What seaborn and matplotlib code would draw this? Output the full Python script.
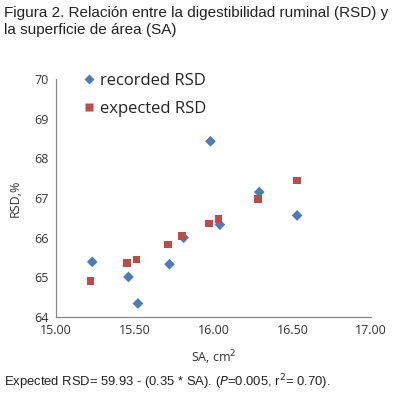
import matplotlib
matplotlib.use("Agg")
import matplotlib.pyplot as plt
import seaborn as sns
import pandas as pd

sa_recorded = [15.23, 15.46, 15.52, 15.72, 15.81, 15.98, 16.04, 16.29, 16.53]
rsd_recorded = [65.39, 65.01, 64.34, 65.33, 66.00, 68.43, 66.33, 67.15, 66.56]
sa_expected = [15.22, 15.45, 15.51, 15.71, 15.80, 15.97, 16.03, 16.28, 16.53]
rsd_expected = [64.90, 65.36, 65.45, 65.83, 66.04, 66.36, 66.47, 66.97, 67.44]
x_ticks = [15.0, 15.5, 16.0, 16.5, 17.0]
y_ticks = [64, 65, 66, 67, 68, 69, 70]

df = pd.concat([
    pd.DataFrame({"SA": sa_recorded, "RSD": rsd_recorded, "serie": "recorded RSD"}),
    pd.DataFrame({"SA": sa_expected, "RSD": rsd_expected, "serie": "expected RSD"}),
])

sns.set_theme(style="white")
plt.rcParams['font.family'] = ['Open Sans', 'DejaVu Sans']

fig = plt.figure(figsize=(4.03, 4.00), dpi=100)
ax = fig.add_axes([0.139, 0.2075, 0.782, 0.595])

sns.scatterplot(data=df, x="SA", y="RSD", hue="serie", style="serie",
                palette={"recorded RSD": "#4a7ebb", "expected RSD": "#be4b48"},
                markers={"recorded RSD": "D", "expected RSD": "s"},
                s=30, edgecolor="none", ax=ax, legend=True)

ax.set_xlim(15.0, 17.0)
ax.set_ylim(64, 70)
ax.set_xticks(x_ticks)
ax.set_xticklabels([f"{v:.2f}" for v in x_ticks])
ax.set_yticks(y_ticks)
ax.tick_params(axis='both', length=0, labelsize=9, colors="#333333", pad=5)
for side in ["top", "right"]:
    ax.spines[side].set_visible(False)
for side in ["left", "bottom"]:
    ax.spines[side].set_color("#888888")
    ax.spines[side].set_linewidth(0.9)

ax.set_xlabel("SA, cm$^2$", fontsize=9, color="#333333", labelpad=8)
ax.set_ylabel("RSD,%", fontsize=9, color="#333333", labelpad=9)

leg = ax.legend(loc="upper left", bbox_to_anchor=(0.03, 1.09), frameon=False,
                fontsize=12, handletextpad=0.2, labelspacing=0.75, markerscale=1.0,
                handlelength=1.0)
for t in leg.get_texts():
    t.set_color("#222222")

fig.text(0.01, 0.985, "Figura 2. Relación entre la digestibilidad ruminal (RSD) y\nla superficie de área (SA)",
         ha="left", va="top", fontsize=11.0, color="#222222", linespacing=1.25,
         family=['Liberation Sans Narrow', 'Liberation Sans', 'DejaVu Sans'])
fig.text(0.01, 0.045, "Expected RSD= 59.93 - (0.35 * SA). ($\\it{P}$=0.005, r$^2$= 0.70).",
         ha="left", va="center", fontsize=9.4, color="#222222",
         family=['Liberation Sans Narrow', 'Liberation Sans', 'DejaVu Sans'])

fig.savefig("out.png", dpi=100)
